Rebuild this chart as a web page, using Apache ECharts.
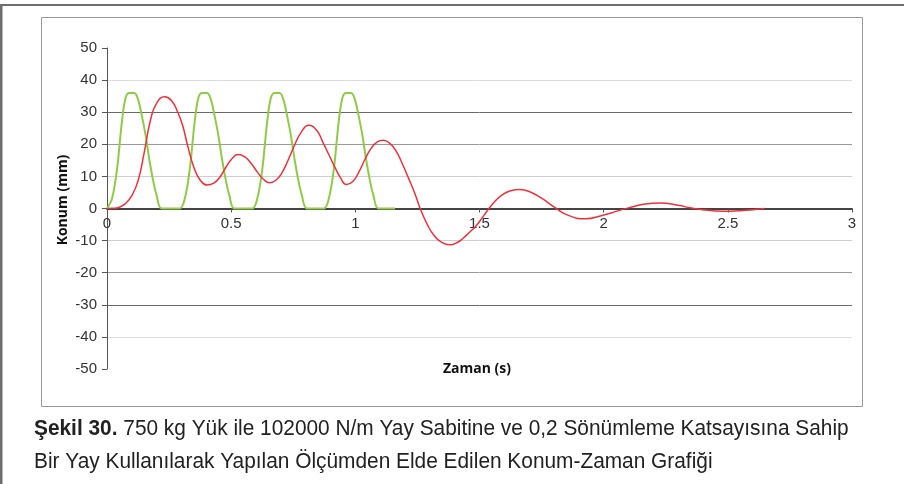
<!DOCTYPE html>
<html>
<head>
<meta charset="utf-8">
<script src="https://cdn.jsdelivr.net/npm/echarts@6/dist/echarts.min.js"></script>
<style>
html,body{margin:0;padding:0;background:#fff;}
#c{width:904px;height:484px;}
</style>
</head>
<body>
<div id="c"></div>
<script>
// ---- data ----
var xTicks = ['0', '0.5', '1', '1.5', '2', '2.5', '3'];
var yTicks = [-50, -40, -30, -20, -10, 0, 10, 20, 30, 40, 50];

var tGreen = [0, 0.02, 0.04, 0.06, 0.075, 0.09, 0.11, 0.125, 0.14, 0.155, 0.17, 0.185, 0.2, 0.22,
  0.293, 0.313, 0.333, 0.353, 0.368, 0.383, 0.403, 0.418, 0.433, 0.448, 0.463, 0.478, 0.493, 0.513,
  0.585, 0.605, 0.625, 0.645, 0.66, 0.675, 0.695, 0.71, 0.725, 0.74, 0.755, 0.77, 0.785, 0.805,
  0.873, 0.893, 0.913, 0.933, 0.948, 0.963, 0.983, 0.998, 1.013, 1.028, 1.043, 1.058, 1.073, 1.093,
  1.16];
var vGreen = [0, 3, 12, 27, 34.5, 36, 36, 34, 29, 23, 15.5, 9, 4, 0,
  0, 3, 12, 27, 34.5, 36, 36, 34, 29, 23, 15.5, 9, 4, 0,
  0, 3, 12, 27, 34.5, 36, 36, 34, 29, 23, 15.5, 9, 4, 0,
  0, 3, 12, 27, 34.5, 36, 36, 34, 29, 23, 15.5, 9, 4, 0,
  0];

var tRed = [0, 0.025, 0.05, 0.075, 0.1, 0.125, 0.15, 0.175, 0.2, 0.232, 0.26, 0.285, 0.305, 0.325,
  0.35, 0.375, 0.403, 0.43, 0.455, 0.48, 0.5, 0.527, 0.555, 0.58, 0.605, 0.63, 0.655, 0.68, 0.705,
  0.73, 0.755, 0.78, 0.8125, 0.845, 0.87, 0.895, 0.92, 0.94, 0.964, 0.99, 1.015, 1.04, 1.065, 1.09,
  1.112, 1.14, 1.165, 1.19, 1.215, 1.24, 1.265, 1.29, 1.315, 1.345, 1.381, 1.41, 1.435, 1.46,
  1.485, 1.51, 1.535, 1.56, 1.59, 1.625, 1.663, 1.7, 1.75, 1.8, 1.85, 1.925, 2.0, 2.05, 2.1, 2.16,
  2.228, 2.3, 2.35, 2.4, 2.45, 2.51, 2.56, 2.61, 2.648];
var vRed = [0, 0.05, 0.4, 1.6, 4, 8.6, 17.5, 27.5, 32.8, 34.8, 33.6, 30, 25.8, 19.5,
  12.8, 8.9, 7.3, 7.9, 9.8, 13, 15.2, 16.8, 16.1, 14.1, 11.4, 9.1, 8.0, 8.8, 11.2,
  15.2, 19.7, 23.5, 25.9, 24.3, 20.5, 16.5, 12.5, 9.6, 7.5, 8.4, 11.5, 15.5, 18.9, 20.8,
  21.3, 20.2, 17.8, 13.8, 9.3, 4.6, -0.8, -5, -8.2, -10.4, -11.3, -10.6, -9.2, -7.4,
  -5.5, -3, -0.3, 2, 4.2, 5.5, 5.9, 5.3, 3.2, 0.5, -1.9, -3.2, -2.0, -0.9, 0.2, 1.3,
  1.75, 1.0, 0.2, -0.4, -0.75, -0.85, -0.6, -0.3, 0];

var yAxisTitle = 'Konum (mm)';
var xAxisTitle = 'Zaman (s)';
var captionBold = 'Şekil 30.';
var captionLine1 = ' 750 kg Yük ile 102000 N/m Yay Sabitine ve 0,2 Sönümleme Katsayısına Sahip';
var captionLine2 = 'Bir Yay Kullanılarak Yapılan Ölçümden Elde Edilen Konum-Zaman Grafiği';

function pairs(t, v) { return t.map(function (x, i) { return [x, v[i]]; }); }

var gridColors = ['rgba(0,0,0,0)', '#dcdcdc', '#6a6a6a', '#9a9a9a', '#cfcfcf', '#444',
  '#cfcfcf', '#9a9a9a', '#6a6a6a', '#dcdcdc', 'rgba(0,0,0,0)'];

var gridTop = 48, gridBottom = 115, H = 484;
var zeroOffset = -(H - gridTop - gridBottom) / 2;

var chart = echarts.init(document.getElementById('c'), null, { renderer: 'canvas' });
chart.setOption({
  animation: false,
  backgroundColor: '#fff',
  grid: { left: 107, right: 52, top: gridTop, bottom: gridBottom, containLabel: false },
  xAxis: {
    type: 'value', min: 0, max: 3, interval: 0.5, position: 'bottom', offset: zeroOffset,
    axisLine: { onZero: false, lineStyle: { color: '#444', width: 2 } },
    axisTick: { show: true, length: 4, lineStyle: { color: '#555' } },
    axisLabel: {
      margin: 8, fontFamily: 'Liberation Sans', fontSize: 15, color: '#333',
      formatter: function (v) { var s = String(+v.toFixed(1)); return xTicks.indexOf(s) >= 0 ? s : ''; }
    },
    splitLine: { show: false }
  },
  yAxis: {
    type: 'value', min: yTicks[0], max: yTicks[yTicks.length - 1], interval: 10,
    axisLine: { show: true, lineStyle: { color: '#555', width: 1 } },
    axisTick: { show: true, length: 5, lineStyle: { color: '#555' } },
    axisLabel: { margin: 10, fontFamily: 'Liberation Sans', fontSize: 15, color: '#333' },
    splitLine: { show: true, lineStyle: { color: gridColors, width: 1 } }
  },
  series: [
    {
      type: 'line', data: pairs(tGreen, vGreen), smooth: 0.35, symbol: 'none',
      lineStyle: { color: '#8fcc45', width: 2 }, z: 2
    },
    {
      type: 'line', data: pairs(tRed, vRed), smooth: 0.5, symbol: 'none',
      lineStyle: { color: '#f0303a', width: 1.5 }, z: 3
    }
  ],
  graphic: [
    { type: 'rect', shape: { x: 0, y: 4, width: 904, height: 2 }, style: { fill: '#6e6e6e' }, silent: true },
    { type: 'rect', shape: { x: 0, y: 4, width: 2.5, height: 480 }, style: { fill: '#6e6e6e' }, silent: true },
    { type: 'rect', shape: { x: 41.5, y: 17.5, width: 821, height: 389 },
      style: { fill: 'none', stroke: '#9a9a9a', lineWidth: 1 }, silent: true },
    { type: 'text', x: 63, y: 200, rotation: Math.PI / 2,
      style: { text: yAxisTitle, fontFamily: 'Open Sans', fontWeight: 'bold', fontSize: 14,
        fill: '#111', align: 'center', verticalAlign: 'middle' } },
    { type: 'text', x: 477, y: 369,
      style: { text: xAxisTitle, fontFamily: 'Open Sans', fontWeight: 'bold', fontSize: 14,
        fill: '#111', align: 'center', verticalAlign: 'middle' } },
    { type: 'text', x: 34, y: 429, scaleX: 0.948,
      style: { text: '{b|' + captionBold + '}{r|' + captionLine1 + '}', verticalAlign: 'middle',
        rich: {
          b: { fontFamily: 'Liberation Sans', fontWeight: 'bold', fontSize: 22, fill: '#222' },
          r: { fontFamily: 'Liberation Sans', fontSize: 22, fill: '#222' }
        } } },
    { type: 'text', x: 34, y: 462, scaleX: 0.948,
      style: { text: captionLine2, fontFamily: 'Liberation Sans', fontSize: 22, fill: '#222',
        verticalAlign: 'middle' } }
  ]
});
</script>
</body>
</html>
